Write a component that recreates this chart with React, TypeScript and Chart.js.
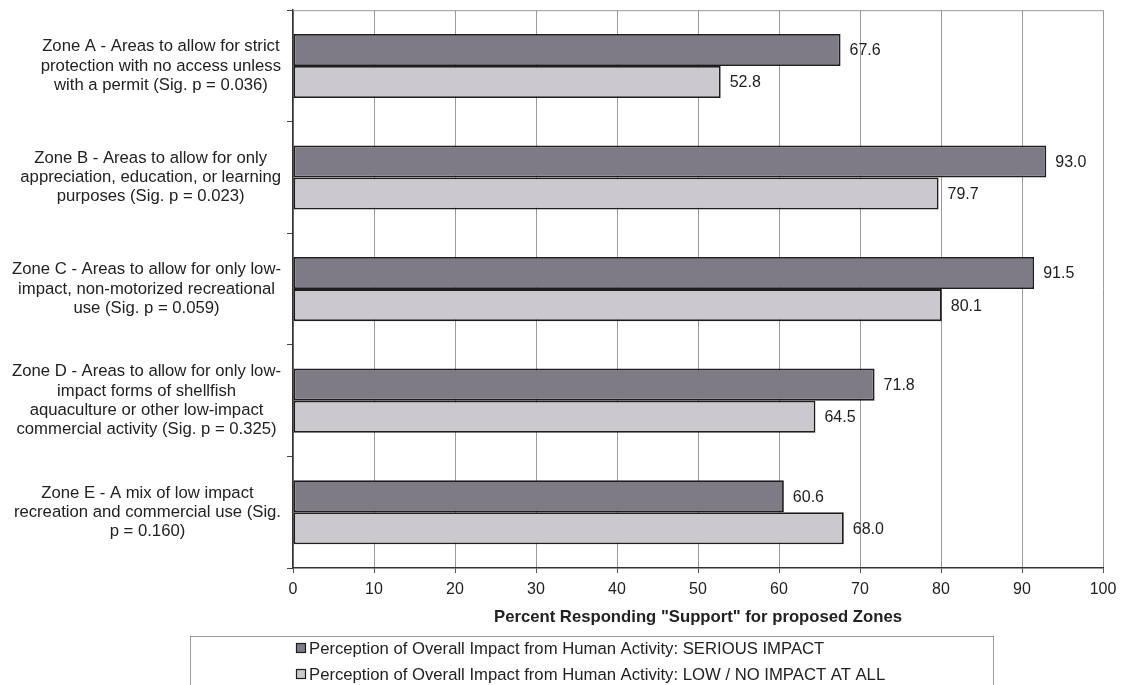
import React, { useEffect, useRef } from "react";
import { Chart, registerables } from "chart.js";

Chart.register(...registerables);

const categories: string[][] = [
  ["Zone A - Areas to allow for strict", "protection with no access unless", "with a permit (Sig. p = 0.036)"],
  ["Zone B - Areas to allow for only", "appreciation, education, or learning", "purposes (Sig. p = 0.023)"],
  ["Zone C - Areas to allow for only low-", "impact, non-motorized recreational", "use (Sig. p = 0.059)"],
  ["Zone D - Areas to allow for only low-", "impact forms of shellfish", "aquaculture or other low-impact", "commercial activity (Sig. p = 0.325)"],
  ["Zone E - A mix of low impact", "recreation and commercial use (Sig.", "p = 0.160)"],
];

const seriousImpact: number[] = [67.6, 93.0, 91.5, 71.8, 60.6];
const lowImpact: number[] = [52.8, 79.7, 80.1, 64.5, 68.0];

const seriesLabels: string[] = [
  "Perception of Overall Impact from Human Activity: SERIOUS IMPACT",
  "Perception of Overall Impact from Human Activity: LOW / NO IMPACT AT ALL",
];

const xTitle = 'Percent Responding "Support" for proposed Zones';

const FONT = "'Liberation Sans', Arial, sans-serif";
const DARK = "#7e7a86";
const LIGHT = "#cbc8ce";
const EDGE = "#1e1e1e";

const customPlugin = {
  id: "custom",
  beforeDatasetsDraw(chart: any) {
    const { ctx, chartArea } = chart;
    ctx.save();
    ctx.strokeStyle = "#999";
    ctx.lineWidth = 1;
    ctx.beginPath();
    ctx.moveTo(chartArea.left, chartArea.top + 0.5);
    ctx.lineTo(chartArea.right, chartArea.top + 0.5);
    ctx.stroke();
    ctx.restore();
  },
  afterDraw(chart: any) {
    const { ctx } = chart;
    ctx.save();
    // y-axis labels: each block right-aligned, lines centred in block
    const yScale = chart.scales.y;
    ctx.font = `16.7px ${FONT}`;
    ctx.fillStyle = "#222";
    ctx.textBaseline = "middle";
    ctx.textAlign = "center";
    const lh = 19.3;
    const rightEdge = 281;
    yScale.ticks.forEach((_t: any, i: number) => {
      const lines = chart.data.labels[i] as string[];
      const yc = yScale.getPixelForTick(i);
      const widest = Math.max(...lines.map((l) => ctx.measureText(l).width));
      const cx = rightEdge - widest / 2;
      const y0 = yc - ((lines.length - 1) * lh) / 2;
      lines.forEach((l, j) => ctx.fillText(l, cx, y0 + j * lh));
    });

    // data labels
    ctx.font = `16px ${FONT}`;
    ctx.textAlign = "left";
    chart.data.datasets.forEach((ds: any, di: number) => {
      const meta = chart.getDatasetMeta(di);
      meta.data.forEach((bar: any, i: number) => {
        ctx.fillText(Number(ds.data[i]).toFixed(1), bar.x + 9, bar.y + 1);
      });
    });

    // legend
    ctx.font = `16.7px ${FONT}`;
    ctx.strokeStyle = "#999";
    ctx.lineWidth = 1;
    ctx.strokeRect(190.5, 636.5, 803, 60);
    chart.data.datasets.forEach((ds: any, di: number) => {
      const y = 648 + di * 26;
      ctx.fillStyle = ds.backgroundColor;
      ctx.fillRect(296, y - 5, 10, 10);
      ctx.strokeStyle = EDGE;
      ctx.lineWidth = 1.2;
      ctx.strokeRect(296.5, y - 4.5, 9, 9);
      ctx.fillStyle = "#222";
      ctx.fillText(ds.label, 309, y + 1);
    });
    ctx.restore();
  },
};

export default function App() {
  const ref = useRef<HTMLCanvasElement | null>(null);
  useEffect(() => {
    if (!ref.current) return;
    const chart = new Chart(ref.current, {
      type: "bar",
      data: {
        labels: categories as any,
        datasets: [
          {
            label: seriesLabels[0],
            data: seriousImpact,
            backgroundColor: DARK,
            borderColor: EDGE,
            borderWidth: 1.8,
            borderSkipped: false,
            categoryPercentage: 0.575,
            barPercentage: 1,
          },
          {
            label: seriesLabels[1],
            data: lowImpact,
            backgroundColor: LIGHT,
            borderColor: EDGE,
            borderWidth: 1.8,
            borderSkipped: false,
            categoryPercentage: 0.575,
            barPercentage: 1,
          },
        ],
      },
      options: {
        indexAxis: "y",
        responsive: false,
        animation: false,
        devicePixelRatio: 1,
        layout: { padding: { left: 0, right: 24, top: 10, bottom: 0 } },
        plugins: {
          legend: { display: false },
          tooltip: { enabled: false },
        },
        scales: {
          x: {
            min: 0,
            max: 100,
            ticks: {
              stepSize: 10,
              color: "#222",
              font: { family: FONT, size: 16 },
              padding: 7,
            },
            grid: {
              color: "#9a9a9a",
              tickColor: "#555",
              tickLength: 5,
              lineWidth: 1,
            },
            border: { color: "#333", width: 1.5 },
            title: {
              display: true,
              text: xTitle,
              color: "#222",
              font: { family: FONT, size: 16.7, weight: "bold" },
              padding: { top: 0, bottom: 58 },
            },
            afterFit(s: any) {
              s.height = 117;
            },
          },
          y: {
            ticks: {
              callback: () => "",
            },
            grid: {
              drawOnChartArea: false,
              drawTicks: true,
              tickLength: 6,
              tickColor: "#444",
              offset: true,
            },
            border: { color: "#333", width: 1.5 },
            afterFit(s: any) {
              s.width = 293;
            },
          },
        },
      },
      plugins: [customPlugin],
    });
    return () => chart.destroy();
  }, []);
  return (
    <div style={{ position: "absolute", left: 0, top: 0, width: 1127, height: 685, background: "#fff" }}>
      <canvas ref={ref} width={1127} height={685} style={{ display: "block" }} />
    </div>
  );
}
